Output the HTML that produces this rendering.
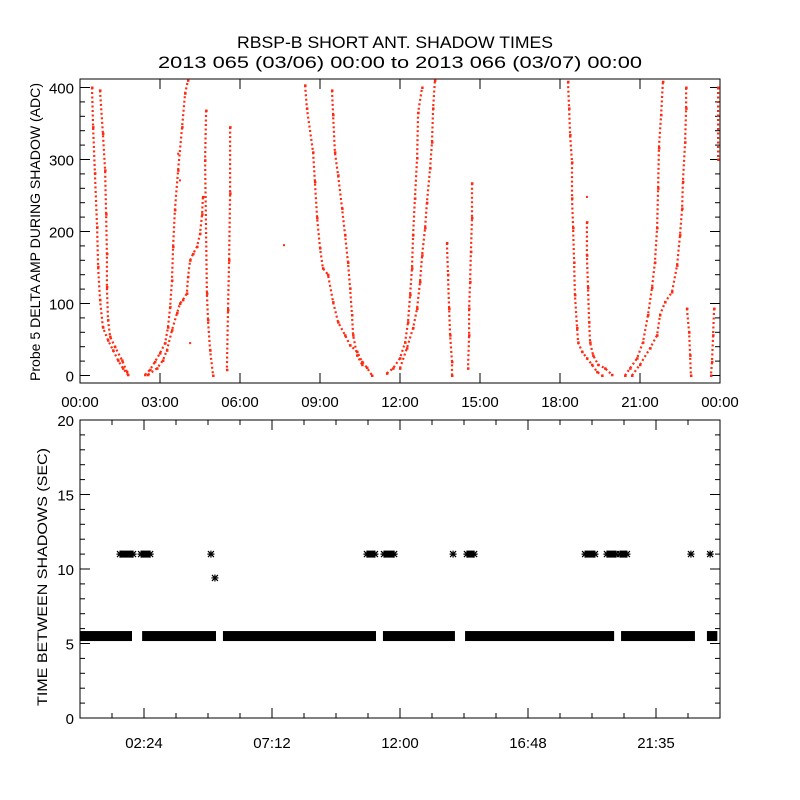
<!DOCTYPE html>
<html><head><meta charset="utf-8"><style>
html,body{margin:0;padding:0;background:#fff;}
svg{display:block;font-family:"Liberation Sans",sans-serif;}
</style></head><body>
<svg id="c" width="800" height="800" viewBox="0 0 800 800">
<rect width="800" height="800" fill="#fff"/>
<text x="395" y="48" text-anchor="middle" font-size="17" textLength="316" lengthAdjust="spacingAndGlyphs">RBSP-B SHORT ANT. SHADOW TIMES</text>
<text x="400" y="68" text-anchor="middle" font-size="17" textLength="484" lengthAdjust="spacingAndGlyphs">2013 065 (03/06) 00:00 to 2013 066 (03/07) 00:00</text>
<g id="topPanel"></g>
<g id="botPanel"></g>
</svg>
<script>
// ---------- top panel data: [hour, ADC value] pairs per branch ----------
const branchA1=[[0.45,400],[0.49,345],[0.56,281],[0.64,206],[0.68,151],[0.75,105],[0.86,67],[1.05,49],[1.24,35],[1.43,21],[1.61,10],[1.8,1]];
const branchA2=[[0.75,396],[0.86,336],[0.94,285],[0.98,224],[1.01,169],[1.01,123],[1.05,77],[1.13,54],[1.31,40],[1.58,21],[1.76,5]];
const branchB1=[[2.44,1],[2.63,8],[2.81,19],[3.0,31],[3.19,45],[3.3,67],[3.38,95],[3.45,132],[3.49,179],[3.56,230],[3.68,285],[3.83,345],[3.94,392],[4.05,410]];
const branchB2=[[2.55,1],[2.89,10],[3.11,21],[3.26,35],[3.45,63],[3.64,87],[3.75,100],[3.86,105],[4.01,114],[4.05,137],[4.13,160],[4.24,169],[4.39,179],[4.5,197],[4.58,224],[4.61,248]];
const branchV1=[[4.73,368],[4.69,299],[4.76,114],[4.8,77],[4.88,35],[4.99,0]];
const branchV2=[[5.63,345],[5.63,253],[5.59,160],[5.55,91],[5.51,8]];
const branchC1=[[8.44,403],[8.51,371],[8.74,310],[8.81,269],[8.89,219],[9.0,177],[9.11,149],[9.3,140],[9.49,102],[9.68,74],[9.94,56],[10.13,42],[10.39,33],[10.58,19],[10.76,11],[10.95,0]];
const branchC2=[[9.45,396],[9.49,362],[9.56,310],[9.68,278],[9.83,232],[9.94,195],[10.05,157],[10.13,121],[10.2,84],[10.24,56],[10.39,28],[10.58,15]];
const branchD1=[[11.51,3],[11.74,10],[12.0,24],[12.19,46],[12.3,74],[12.38,112],[12.45,149],[12.49,195],[12.56,246],[12.64,302],[12.68,365],[12.83,400]];
const branchD2=[[12.0,10],[12.26,38],[12.49,66],[12.64,93],[12.75,130],[12.83,167],[12.94,205],[13.01,240],[13.13,288],[13.2,324],[13.24,371],[13.31,410]];
const branchV3=[[13.76,184],[13.8,140],[13.84,93],[13.88,56],[13.95,19],[13.95,0]];
const branchV4=[[14.7,267],[14.7,219],[14.66,172],[14.63,130],[14.59,93],[14.59,56],[14.55,10]];
const branchE1=[[18.3,408],[18.34,371],[18.38,334],[18.45,296],[18.45,246],[18.49,205],[18.53,157],[18.56,112],[18.64,66],[18.68,46],[18.83,33],[19.01,24],[19.2,15],[19.39,5],[19.58,0]];
const branchE2=[[19.01,213],[19.01,167],[19.05,122],[19.09,74],[19.13,46],[19.24,28],[19.43,15],[19.69,10],[19.95,1]];
const branchF1=[[20.44,0],[20.63,10],[20.89,24],[21.11,46],[21.3,84],[21.45,122],[21.56,157],[21.64,205],[21.68,260],[21.71,316],[21.79,362],[21.86,408]];
const branchF2=[[20.7,0],[21.0,15],[21.38,38],[21.64,56],[21.75,84],[21.94,102],[22.2,116],[22.39,153],[22.5,195],[22.58,232],[22.61,269],[22.69,324],[22.73,371],[22.73,400]];
const branchV5=[[22.76,93],[22.84,60],[22.88,28],[22.91,0]];
const branchV6=[[23.78,93],[23.74,56],[23.7,19],[23.66,0]];
const branchV7=[[23.93,400],[23.93,300]];
const strayPoints=[[7.65,181],[4.13,45],[19.01,248],[3.68,308],[3.75,271]];
const topXTicks=["00:00","03:00","06:00","09:00","12:00","15:00","18:00","21:00","00:00"];
const topYTicks=[0,100,200,300,400];

// ---------- bottom panel data ----------
const bandStart=[0,2.33,5.36,11.36,14.44,20.29,23.51];
const bandEnd=[1.95,5.1,11.1,14.06,20.03,23.06,23.9];
const bandValue=5.5;
const clusterStart=[1.5,2.29,10.76,11.4,14.51,18.94,19.76,20.25];
const clusterEnd=[1.99,2.63,11.06,11.78,14.78,19.31,20.1,20.51];
const clusterValue=11;
const singleHours=[4.91,5.06,13.99,22.91,23.63];
const singleValues=[11,9.4,11,11,11];
const botXTicks=["02:24","07:12","12:00","16:48","21:35"];
const botYTicks=[0,5,10,15,20];

const NS="http://www.w3.org/2000/svg";
function mk(tag,attrs,parent){const e=document.createElementNS(NS,tag);for(const k in attrs)e.setAttribute(k,attrs[k]);parent.appendChild(e);return e;}

// ---- top axes ----
const T={x0:80,x1:720,y0:383,y1:79};
const tx=h=>T.x0+h/24*(T.x1-T.x0);
const ty=v=>375.5-v*0.72;
const topG=document.getElementById('topPanel');
const tFrame=mk('rect',{x:T.x0,y:T.y1,width:T.x1-T.x0,height:T.y0-T.y1,fill:'none',stroke:'#000','stroke-width':1},topG);


for(let v=0;v<=400;v+=20){
  const len=v%100===0?10:5;
  const l1=mk('line',{x1:T.x0,x2:T.x0+len,y1:ty(v),y2:ty(v),stroke:'#000'},topG);
  
  
  const l2=mk('line',{x1:T.x1,x2:T.x1-len,y1:ty(v),y2:ty(v),stroke:'#000'},topG);
  
  
}
topYTicks.forEach(v=>{
  const t=mk('text',{x:74,y:ty(v)+6,'text-anchor':'end','font-size':15},topG);
  t.textContent=v;
  
  
});
topXTicks.forEach((s,i)=>{
  const h=i*3;
  const a=mk('line',{x1:tx(h),x2:tx(h),y1:T.y0,y2:T.y0-10,stroke:'#000'},topG);
  
  
  const b=mk('line',{x1:tx(h),x2:tx(h),y1:T.y1,y2:T.y1+10,stroke:'#000'},topG);
  
  
  const t=mk('text',{x:tx(h),y:407,'text-anchor':'middle','font-size':15},topG);
  t.textContent=s;
  
  
});
const tyl=mk('text',{x:0,y:0,'text-anchor':'middle','font-size':14,transform:'translate(40,232) rotate(-90)',textLength:298,lengthAdjust:'spacingAndGlyphs'},topG);
tyl.textContent='Probe 5 DELTA AMP DURING SHADOW (ADC)';



const branches=[branchA1,branchA2,branchB1,branchB2,branchV1,branchV2,branchC1,branchC2,branchD1,branchD2,branchV3,branchV4,branchE1,branchE2,branchF1,branchF2,branchV5,branchV6,branchV7];
const RED='#ff2a10';
branches.forEach(br=>{
  const pts=br.map(p=>tx(p[0]).toFixed(1)+','+ty(p[1]).toFixed(1)).join(' ');
  const pl=mk('polyline',{points:pts,fill:'none',stroke:RED,'stroke-width':2.2,'stroke-dasharray':'2 2.5'},topG);
  
  
  br.forEach(p=>{
    const r=mk('rect',{x:tx(p[0])-1,y:ty(p[1])-1,width:2.5,height:2.5,fill:RED},topG);
    
    
  });
});
strayPoints.forEach(p=>{
  const r=mk('rect',{x:tx(p[0])-1,y:ty(p[1])-1,width:2,height:2,fill:RED},topG);
  
  
});

// ---- bottom axes ----
const B={x0:80,x1:720,y0:718,y1:420};
const bx=h=>B.x0+h/24*(B.x1-B.x0);
const by=v=>B.y0-v/20*(B.y0-B.y1);
const botG=document.getElementById('botPanel');
const bFrame=mk('rect',{x:B.x0,y:B.y1,width:B.x1-B.x0,height:B.y0-B.y1,fill:'none',stroke:'#000','stroke-width':1},botG);


for(let v=0;v<=20;v++){
  const len=v%5===0?10:5;
  const l1=mk('line',{x1:B.x0,x2:B.x0+len,y1:by(v),y2:by(v),stroke:'#000'},botG);
  
  
  const l2=mk('line',{x1:B.x1,x2:B.x1-len,y1:by(v),y2:by(v),stroke:'#000'},botG);
  
  
}
botYTicks.forEach(v=>{
  const t=mk('text',{x:74,y:by(v)+6,'text-anchor':'end','font-size':15},botG);
  t.textContent=v;
  
  
});
for(let i=0;i<=20;i++){
  const h=i*1.2;
  const len=i%4===2?10:5;
  const a=mk('line',{x1:bx(h),x2:bx(h),y1:B.y0,y2:B.y0-len,stroke:'#000'},botG);
  
  
  const b=mk('line',{x1:bx(h),x2:bx(h),y1:B.y1,y2:B.y1+len,stroke:'#000'},botG);
  
  
}
botXTicks.forEach((s,i)=>{
  const h=2.4+i*4.8;
  const t=mk('text',{x:bx(h),y:748,'text-anchor':'middle','font-size':15},botG);
  t.textContent=s;
  
  
});
const byl=mk('text',{x:0,y:0,'text-anchor':'middle','font-size':14,transform:'translate(47,577) rotate(-90)',textLength:258,lengthAdjust:'spacingAndGlyphs'},botG);
byl.textContent='TIME BETWEEN SHADOWS (SEC)';



function star(cx,cy,g){
  const s=mk('path',{d:`M${cx-3.5},${cy}H${cx+3.5}M${cx},${cy-3.5}V${cy+3.5}M${cx-3},${cy-3}L${cx+3},${cy+3}M${cx-3},${cy+3}L${cx+3},${cy-3}`,stroke:'#000','stroke-width':1.2,fill:'none'},g);
  
  
}
bandStart.forEach((s,i)=>{
  const r=mk('rect',{x:bx(s),y:by(bandValue)-5,width:bx(bandEnd[i])-bx(s),height:10,fill:'#000'},botG);
  
  
});
clusterStart.forEach((s,i)=>{
  const w=bx(clusterEnd[i])-bx(s);
  const r=mk('rect',{x:bx(s),y:by(clusterValue)-3.5,width:w,height:7,fill:'#000'},botG);
  
  
  star(bx(s),by(clusterValue),botG);
  star(bx(clusterEnd[i]),by(clusterValue),botG);
});
singleHours.forEach((h,i)=>star(bx(h),by(singleValues[i]),botG));
</script>
</body></html>
